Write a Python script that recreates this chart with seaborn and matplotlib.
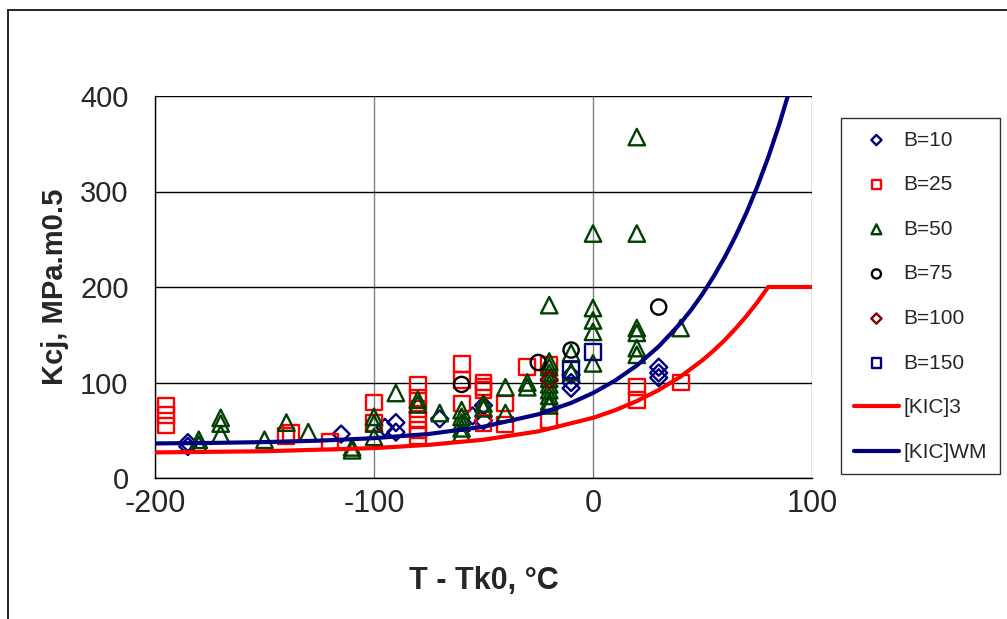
import numpy as np
import pandas as pd
import seaborn as sns
import matplotlib
matplotlib.use("Agg")
from matplotlib import pyplot as plt
from matplotlib.lines import Line2D

# data (T - Tk0 in C, Kcj in MPa.m0.5)
b10_t = [-185, -185, -115, -95, -90, -90, -70, -55, -50, -50, -10, -10, -10, 30, 30, 30]
b10_k = [33, 37, 46, 53, 58, 48, 62, 65, 76, 60, 108, 100, 94, 116, 110, 105]

b25_t = [-195, -195, -195, -140, -138, -120, -100, -100,
         -80, -80, -80, -80, -80, -80, -60, -60, -60,
         -50, -50, -50, -50, -40, -40, -30, -20, -20, 20, 20, 40]
b25_k = [76, 66, 55, 44, 47, 38, 79, 58,
         97, 84, 72, 62, 50, 44, 119, 103, 78,
         100, 95, 92, 58, 78, 56, 116, 118, 61, 95, 82, 100]

b50_t = [-180, -180, -170, -170, -170, -150, -140, -130, -110, -110,
         -100, -100, -100, -90, -80, -80, -70,
         -60, -60, -60, -60, -60, -50, -50, -40, -40, -30, -30,
         -20, -20, -20, -20, -20, -20, -20, -20, -20, -20,
         -10, -10, 0, 0, 0, 0, 0, 20, 20, 20, 20, 20, 20, 40]
b50_k = [35, 40, 63, 57, 46, 40, 58, 48, 32, 29,
         64, 57, 43, 89, 82, 77, 68,
         71, 64, 58, 52, 47, 78, 73, 95, 68, 100, 95,
         181, 122, 116, 110, 104, 98, 92, 86, 80, 76,
         131, 111, 256, 178, 165, 153, 120, 357, 256, 157, 152, 136, 129, 157]

b75_t = [-60, -25, -10, 30]
b75_k = [98, 121, 134, 179]

b100_t = [-20]
b100_k = [103]

b150_t = [-10, 0]
b150_k = [113, 132]

# reference curves
kic3_t = [-200, -150, -100, -75, -50, -25, 0, 10, 20, 30, 40, 50, 55, 60, 65, 70, 75, 80, 100]
kic3_k = [26.8, 28.0, 31.3, 34.7, 40.1, 48.8, 63.0, 70.9, 80.5, 92.1, 106.2, 123.4, 133.2,
          144.1, 156.2, 169.4, 183.9, 200, 200]

kicwm_t = [-200, -175, -150, -125, -100, -75, -50, -25, -10, 0, 10, 20, 30, 40, 45, 50,
           55, 60, 65, 70, 75, 80, 85, 90]
kicwm_k = [36.2, 36.7, 37.6, 39.1, 41.7, 46.1, 53.7, 66.7, 78.6, 89.0, 101.9, 117.8, 137.7,
           162.2, 176.6, 192.7, 210.7, 230.6, 252.8, 277.4, 305.0, 335.7, 369.9, 407.9]

sns.set_style("white")
plt.rcParams['font.family'] = ['Liberation Sans', 'DejaVu Sans']
plt.rcParams['axes.unicode_minus'] = False

fig = plt.figure(figsize=(10.07, 6.19), dpi=100)
ax = fig.add_axes([155 / 1007, 1 - 478 / 619, 657 / 1007, 382 / 619])

series = [
    (b10_t, b10_k, 'B=10', 'D', '#000080', 75),
    (b25_t, b25_k, 'B=25', 's', '#ff0000', 130),
    (b50_t, b50_k, 'B=50', '^', '#004000', 140),
    (b75_t, b75_k, 'B=75', 'o', '#000000', 120),
    (b100_t, b100_k, 'B=100', 'D', '#800000', 75),
    (b150_t, b150_k, 'B=150', 's', '#000080', 130),
]
for t, k, label, marker, color, size in series:
    df = pd.DataFrame({'t': t, 'k': k})
    sns.scatterplot(data=df, x='t', y='k', ax=ax, marker=marker, s=size,
                    facecolor='none', edgecolor=color, linewidth=1.7,
                    label=label, zorder=3, clip_on=False)

sns.lineplot(x=kic3_t, y=kic3_k, ax=ax, color='#ff0000', linewidth=3,
             sort=False, estimator=None, label='[KIC]3', zorder=4)
sns.lineplot(x=kicwm_t, y=kicwm_k, ax=ax, color='#000080', linewidth=3,
             sort=False, estimator=None, label='[KIC]WM', zorder=4)

ax.set_xlim(-200, 100)
ax.set_ylim(0, 400)
ax.set_xticks([-200, -100, 0, 100])
ax.set_yticks([0, 100, 200, 300, 400])
ax.xaxis.grid(True, color='#808080', linewidth=1)
ax.yaxis.grid(True, color='#000000', linewidth=1)
ax.set_axisbelow(True)
for side in ['top', 'right']:
    ax.spines[side].set_visible(False)
for side in ['left', 'bottom']:
    ax.spines[side].set_color('black')
    ax.spines[side].set_linewidth(1)
ax.tick_params(axis='both', direction='out', length=6, width=1, color='black')
ax.tick_params(axis='y', labelsize=21, pad=13)
ax.tick_params(axis='x', labelsize=22, pad=2)

ax.set_xlabel('T - Tk0, °C', fontsize=22, fontweight='bold', labelpad=34)
ax.set_ylabel('Kcj, MPa.m0.5', fontsize=21, fontweight='bold', labelpad=8)

handles, labels = ax.get_legend_handles_labels()
if ax.get_legend() is not None:
    ax.get_legend().remove()
leg = fig.legend(handles, labels, loc='upper left',
                 bbox_to_anchor=(841 / 1007, 1 - 118 / 619),
                 frameon=True, fancybox=False, edgecolor='black',
                 fontsize=15, labelspacing=1.23, handlelength=2.2,
                 markerscale=0.6, borderpad=0.6, handletextpad=0.2,
                 borderaxespad=0)
leg.get_frame().set_linewidth(1)

# outer chart border (partly cut off in the reference)
fig.add_artist(Line2D([8 / 1007, 8 / 1007], [0, 1 - 10 / 619], color='black', linewidth=1.2))
fig.add_artist(Line2D([8 / 1007, 1], [1 - 10 / 619, 1 - 10 / 619], color='black', linewidth=1.2))

fig.savefig('out.png', dpi=100)
